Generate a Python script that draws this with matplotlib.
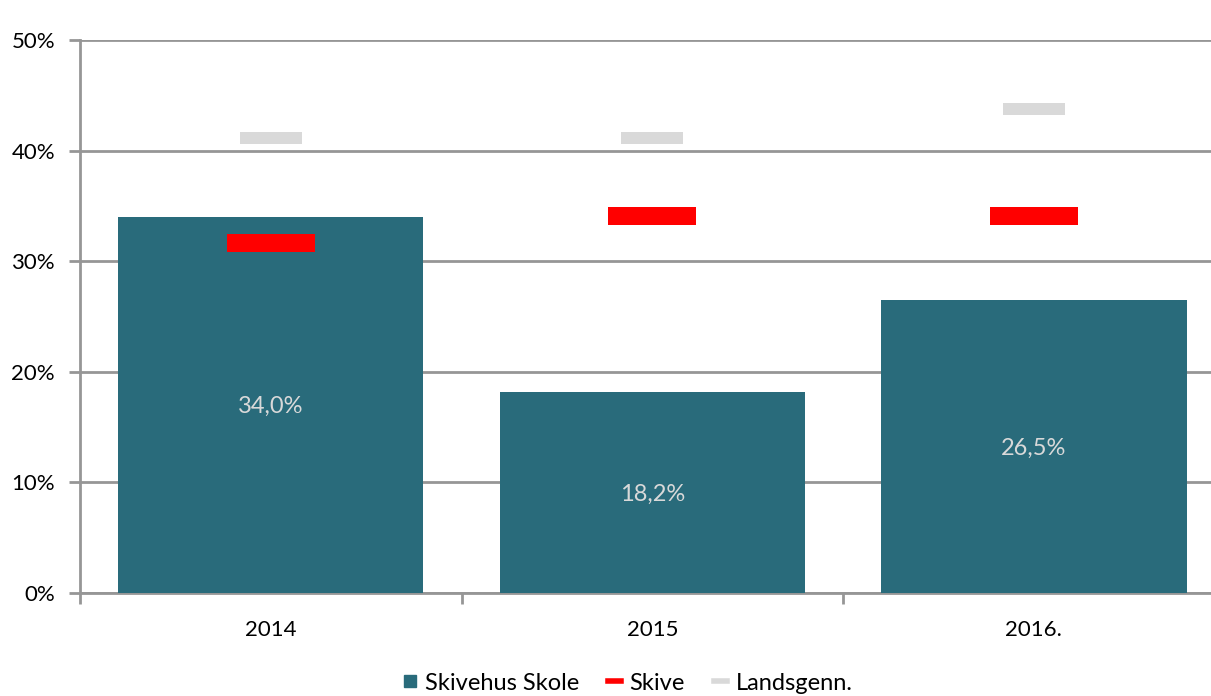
import matplotlib.pyplot as plt
import numpy as np
from matplotlib.path import Path

years = ["2014", "2015", "2016."]
skivehus = [34.0, 18.2, 26.5]
skive = [31.65, 34.1, 34.1]
landsgenn = [41.1, 41.1, 43.8]
bar_labels = ["34,0%", "18,2%", "26,5%"]

plt.rcParams['font.family'] = ['Lato', 'DejaVu Sans']

W, H = 1211, 696
fig = plt.figure(figsize=(W / 100, H / 100), dpi=100)
x0, x1 = 80, 1224.7
y0, y1 = 592.7, 40
ax = fig.add_axes([x0 / W, 1 - y0 / H, (x1 - x0) / W, (y0 - y1) / H])

grid_col = '#969696'
bar_col = '#296B7B'

x = np.arange(len(years))
ax.bar(x, skivehus, width=0.8, color=bar_col, zorder=3, label='Skivehus Skole')
for xi, v, lab in zip(x, skivehus, bar_labels):
    ax.text(xi, v / 2, lab, ha='center', va='center_baseline', color='#D9D9D9',
            fontsize=17, zorder=4)

# flat rectangle marker
rect = Path([(-1, -0.2), (1, -0.2), (1, 0.2), (-1, 0.2), (-1, -0.2)])
ax.plot(x, skive, ls='none', marker=rect, ms=64, mew=0, color='#FF0000', zorder=5)
ax.plot(x, landsgenn, ls='none', marker=rect, ms=45, mew=0, color='#D9D9D9', zorder=5)

ax.set_xlim(-0.5, 2.5)
ax.set_ylim(0, 50)
ax.set_yticks(range(0, 51, 10))
ax.set_yticklabels([f"{v}%" for v in range(0, 51, 10)])
ax.yaxis.grid(True, color=grid_col, lw=2, zorder=0)
ax.set_axisbelow(True)

ax.set_xticks(x)
ax.set_xticklabels(years)
ax.set_xticks([-0.5, 0.5, 1.5, 2.5], minor=True)
ax.tick_params(axis='x', which='major', length=0, pad=20, labelsize=16)
ax.tick_params(axis='x', which='minor', length=8, width=2, color=grid_col)
ax.tick_params(axis='y', length=8, width=2, color=grid_col, labelsize=16, pad=10)

for s in ['top', 'right']:
    ax.spines[s].set_visible(False)
ax.spines['left'].set_color(grid_col)
ax.spines['left'].set_linewidth(2)
ax.spines['bottom'].set_color(grid_col)
ax.spines['bottom'].set_linewidth(2)

handles = [
    plt.Line2D([], [], ls='none', marker='s', ms=9, color=bar_col),
    plt.Line2D([], [], color='#FF0000', lw=4),
    plt.Line2D([], [], color='#D9D9D9', lw=4),
]
fig.legend(handles, ['Skivehus Skole', 'Skive', 'Landsgenn.'], loc='center',
           bbox_to_anchor=(628 / W, 1 - 683 / H), ncol=3, frameon=False,
           fontsize=17, handlelength=0.55, handletextpad=0.35, columnspacing=1.25)

fig.savefig('out.png', dpi=100)
